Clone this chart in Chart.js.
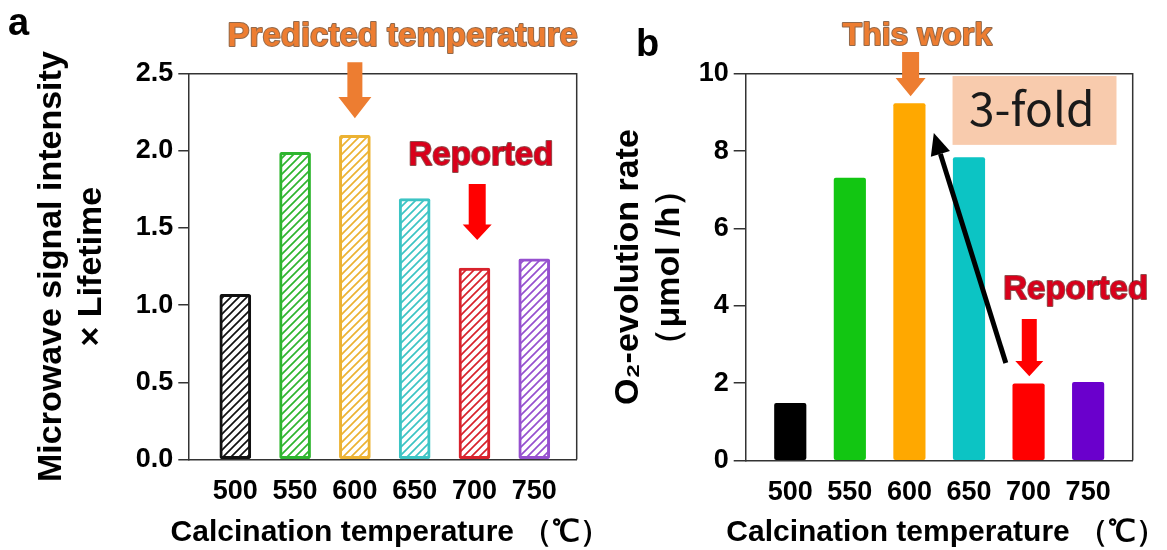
<!DOCTYPE html>
<html lang="en">
<head>
<meta charset="UTF-8">
<title>Calcination temperature</title>
<script src="https://cdn.jsdelivr.net/npm/chart.js"></script>
<style>
  html, body { margin: 0; padding: 0; background: #fff; }
  body { width: 1167px; height: 550px; position: relative; overflow: hidden; }
  .panel { position: absolute; top: 0; }
  #panelA { left: 0; }
  #panelB { left: 600px; }
</style>
</head>
<body>
<div class="panel" id="panelA"><canvas id="chartA" width="620" height="550"></canvas></div>
<div class="panel" id="panelB"><canvas id="chartB" width="567" height="550"></canvas></div>
<script>
// Data
const temperatures = [500, 550, 600, 650, 700, 750];
const microwaveValues = [1.07, 1.99, 2.10, 1.69, 1.24, 1.30];
const o2Values = [1.48, 7.30, 9.23, 7.83, 1.98, 2.02];
const microwaveTicks = [0, 0.5, 1.0, 1.5, 2.0, 2.5];
const o2Ticks = [0, 2, 4, 6, 8, 10];

const colorsA = ['#111111', '#2eb52e', '#ecb232', '#3cc4c4', '#d8222c', '#9650cf'];
const colorsB = ['#000000', '#12c612', '#ffa800', '#0cc4c4', '#ff0000', '#6a00cc'];

const FONT = "'Liberation Sans', Arial, sans-serif";
Chart.defaults.font.family = FONT;
Chart.defaults.color = '#000';

// Hatched fill for panel a
function hatch(ctx, color) {
    const c = document.createElement('canvas');
    c.width = 8; c.height = 8;
    const g = c.getContext('2d');
    g.fillStyle = '#fff';
    g.fillRect(0, 0, 8, 8);
    g.strokeStyle = color;
    g.lineWidth = 1.7;
    g.beginPath();
    g.moveTo(0, 8); g.lineTo(8, 0);
    g.moveTo(-2, 2); g.lineTo(2, -2);
    g.moveTo(6, 10); g.lineTo(10, 6);
    g.stroke();
    return ctx.createPattern(c, 'repeat');
}

// Top and right border of the plot box
const frame = {
    id: 'frame',
    afterDatasetsDraw(chart) {
        const { ctx, chartArea: a } = chart;
        ctx.save();
        ctx.strokeStyle = '#333';
        ctx.lineWidth = 1.5;
        ctx.beginPath();
        ctx.moveTo(a.left, a.top);
        ctx.lineTo(a.right, a.top);
        ctx.lineTo(a.right, a.bottom);
        ctx.stroke();
        ctx.restore();
    }
};

function blockArrow(ctx, x, yTop, yHead, yTip, shaftHalf, headHalf, color) {
    ctx.fillStyle = color;
    ctx.beginPath();
    ctx.moveTo(x - shaftHalf, yTop);
    ctx.lineTo(x + shaftHalf, yTop);
    ctx.lineTo(x + shaftHalf, yHead);
    ctx.lineTo(x + headHalf, yHead);
    ctx.lineTo(x, yTip);
    ctx.lineTo(x - headHalf, yHead);
    ctx.lineTo(x - shaftHalf, yHead);
    ctx.closePath();
    ctx.fill();
}

// Labels, arrows and boxes, placed in data coordinates
const notes = {
    id: 'notes',
    afterDraw(chart, args, opts) {
        const { ctx, chartArea } = chart;
        const xs = chart.scales.x, ys = chart.scales.y;
        const px = v => xs.getPixelForValue(v);
        const py = v => ys.getPixelForValue(v);
        ctx.save();
        (opts.boxes || []).forEach(b => {
            ctx.fillStyle = b.color;
            ctx.fillRect(px(b.x0), py(b.y0), px(b.x1) - px(b.x0), py(b.y1) - py(b.y0));
        });
        (opts.arrows || []).forEach(a => {
            blockArrow(ctx, px(a.x), py(a.top), py(a.head), py(a.tip), a.shaft, a.headWidth, a.color);
        });
        (opts.lines || []).forEach(l => {
            const x0 = px(l.from[0]), y0 = py(l.from[1]);
            const x1 = px(l.to[0]), y1 = py(l.to[1]);
            const ang = Math.atan2(y1 - y0, x1 - x0);
            const hl = 22, hw = 10;
            const bx = x1 - hl * Math.cos(ang), by = y1 - hl * Math.sin(ang);
            ctx.strokeStyle = l.color;
            ctx.lineWidth = 5;
            ctx.beginPath();
            ctx.moveTo(x0, y0);
            ctx.lineTo(bx, by);
            ctx.stroke();
            ctx.fillStyle = l.color;
            ctx.beginPath();
            ctx.moveTo(x1, y1);
            ctx.lineTo(bx + hw * Math.sin(ang), by - hw * Math.cos(ang));
            ctx.lineTo(bx - hw * Math.sin(ang), by + hw * Math.cos(ang));
            ctx.closePath();
            ctx.fill();
        });
        (opts.texts || []).forEach(t => {
            ctx.font = t.font;
            ctx.textAlign = 'center';
            ctx.textBaseline = 'middle';
            const x = px(t.x), y = py(t.y);
            if (t.stroke) {
                ctx.lineWidth = 2;
                ctx.lineJoin = 'round';
                ctx.strokeStyle = t.stroke;
                ctx.strokeText(t.text, x, y);
            }
            ctx.fillStyle = t.color;
            ctx.fillText(t.text, x, y);
        });
        // x axis title (wider than the plot, so drawn here to avoid squeezing)
        ctx.font = 'bold 30px ' + FONT;
        ctx.textAlign = 'center';
        ctx.textBaseline = 'middle';
        ctx.fillStyle = '#000';
        ctx.fillText(opts.xTitle, (chartArea.left + chartArea.right) / 2 + opts.xTitleShift, chart.height - 17);
        // panel letter
        ctx.font = 'bold 38px ' + FONT;
        ctx.textAlign = 'left';
        ctx.textBaseline = 'alphabetic';
        ctx.fillText(opts.letter.text, opts.letter.x, opts.letter.y);
        ctx.restore();
    }
};

function makeChart(id, values, bg, border, borderWidth, yTicks, yMin, yMax, xMin, xMax, yTitle, yTitleFont, sizes, decimals, noteOpts) {
    const canvas = document.getElementById(id);
    return new Chart(canvas.getContext('2d'), {
        type: 'bar',
        data: {
            datasets: [{
                data: temperatures.map((t, i) => ({ x: t, y: values[i] })),
                backgroundColor: bg,
                borderColor: border,
                borderWidth: borderWidth,
                borderRadius: 2,
                borderSkipped: false,
                barThickness: sizes.bar
            }]
        },
        options: {
            responsive: false,
            animation: false,
            layout: { padding: { left: 0, top: sizes.top, right: sizes.right, bottom: 0 } },
            plugins: { legend: { display: false }, tooltip: { enabled: false }, notes: noteOpts },
            scales: {
                x: {
                    type: 'linear',
                    min: xMin,
                    max: xMax,
                    offset: false,
                    afterBuildTicks: s => { s.ticks = temperatures.map(v => ({ value: v })); },
                    afterFit: s => { s.height = sizes.xHeight; },
                    grid: { display: false, drawTicks: false },
                    border: { display: true, color: '#333', width: 1.5 },
                    ticks: { font: { size: 27, weight: 'bold' }, padding: 16, callback: v => String(v) },
                    title: { display: false }
                },
                y: {
                    min: yMin,
                    max: yMax,
                    afterBuildTicks: s => { s.ticks = yTicks.map(v => ({ value: v })); },
                    afterFit: s => { s.width = sizes.yWidth; },
                    grid: { drawOnChartArea: false, drawTicks: true, tickLength: sizes.tick, color: '#333', lineWidth: 1.5 },
                    border: { display: true, color: '#333', width: 1.5 },
                    ticks: { font: { size: 27, weight: 'bold' }, padding: 5, callback: v => v.toFixed(decimals) },
                    title: {
                        display: true,
                        text: yTitle,
                        font: yTitleFont,
                        padding: { top: sizes.yTitlePad, bottom: 0 }
                    }
                }
            }
        },
        plugins: [frame, notes]
    });
}

// Panel a
const ctxA = document.getElementById('chartA').getContext('2d');
makeChart('chartA', microwaveValues, colorsA.map(c => hatch(ctxA, c)), colorsA, 3,
    microwaveTicks, 0, 2.5, 460.7, 785.5,
    ['Microwave signal intensity', '× Lifetime'],
    { size: 34, weight: 'bold', lineHeight: 1.15 },
    { bar: 31, top: 73.7, right: 43.3, xHeight: 90.5, yWidth: 188.3, tick: 10, yTitlePad: 32.5 },
    1,
    {
        letter: { text: 'a', x: 8, y: 35 },
        xTitle: 'Calcination temperature （℃）',
        xTitleShift: 8,
        texts: [
            { text: 'Predicted temperature', x: 640, y: 2.737, font: 'bold 33px ' + FONT, color: '#ed7d31', stroke: 'rgba(110,55,15,0.75)' },
            { text: 'Reported', x: 705.4, y: 1.966, font: 'bold 33px ' + FONT, color: '#d9001b', stroke: 'rgba(100,0,0,0.7)' }
        ],
        arrows: [
            { x: 600, top: 2.575, head: 2.349, tip: 2.212, shaft: 7.5, headWidth: 16.5, color: '#ed7d31' },
            { x: 702.3, top: 1.785, head: 1.523, tip: 1.422, shaft: 8.5, headWidth: 14.5, color: '#ff0000' }
        ]
    });

// Panel b
makeChart('chartB', o2Values, colorsB, colorsB, 0,
    o2Ticks, 0, 10, 462.6, 787.4,
    ['O₂-evolution rate', '（μmol /h）'],
    { size: 34, weight: 'bold', lineHeight: 1.2 },
    { bar: 31.5, top: 73.7, right: 34.3, xHeight: 89.5, yWidth: 145.7, tick: 12, yTitlePad: 8.6 },
    0,
    {
        letter: { text: 'b', x: 36, y: 56 },
        xTitle: 'Calcination temperature （℃）',
        xTitleShift: 7,
        boxes: [
            { x0: 636.2, x1: 773.8, y0: 9.94, y1: 8.16, color: '#f8cbad' }
        ],
        texts: [
            { text: 'This work', x: 606.6, y: 10.97, font: 'bold 32px ' + FONT, color: '#ed7d31', stroke: 'rgba(110,55,15,0.75)' },
            { text: '3-fold', x: 702.7, y: 9.11, font: "46px 'Noto Sans CJK JP', 'Noto Sans', sans-serif", color: '#1a1a1a' },
            { text: 'Reported', x: 739.5, y: 4.41, font: 'bold 33px ' + FONT, color: '#d9001b', stroke: 'rgba(100,0,0,0.7)' }
        ],
        arrows: [
            { x: 601, top: 10.56, head: 9.89, tip: 9.42, shaft: 8.5, headWidth: 15, color: '#ed7d31' },
            { x: 700.6, top: 3.66, head: 2.57, tip: 2.18, shaft: 7.5, headWidth: 14, color: '#ff0000' }
        ],
        lines: [
            { from: [680.9, 2.52], to: [620.5, 8.47], color: '#000' }
        ]
    });
</script>
</body>
</html>
